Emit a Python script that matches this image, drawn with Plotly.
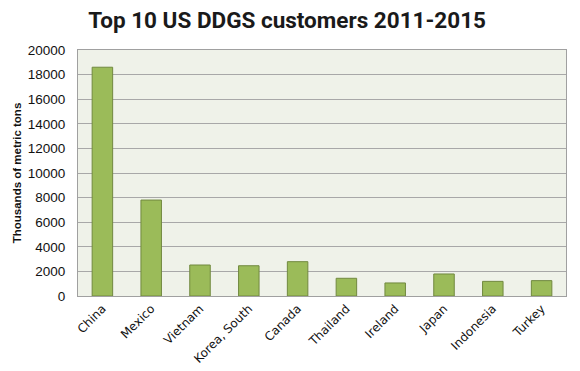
import plotly.graph_objects as go

categories = ["China", "Mexico", "Vietnam", "Korea, South", "Canada",
              "Thailand", "Ireland", "Japan", "Indonesia", "Turkey"]
values = [18600, 7800, 2520, 2460, 2790, 1440, 1060, 1790, 1190, 1250]
y_ticks = [0, 2000, 4000, 6000, 8000, 10000, 12000, 14000, 16000, 18000, 20000]

fig = go.Figure(go.Bar(
    x=categories, y=values, width=0.42,
    marker=dict(color="#9bbb59", line=dict(color="#71893f", width=1)),
))

fig.update_layout(
    width=580, height=371,
    margin=dict(l=78, r=14, t=50, b=75, autoexpand=False),
    paper_bgcolor="white", plot_bgcolor="#eff2e9",
    title=dict(text="<b>Top 10 US DDGS customers 2011-2015</b>", x=0.495, xanchor="center",
               y=0.945, yanchor="middle",
               font=dict(family="Roboto", size=22.5, color="#1a1a1a")),
    showlegend=False,
)
fig.update_xaxes(tickangle=-45, tickfont=dict(family="DejaVu Sans", size=12, color="#111"),
                 showline=True, linecolor="#a0a0a0", mirror=True, ticks="", automargin=False)
fig.update_yaxes(range=[0, 20000], tickvals=y_ticks, tickformat="d", showgrid=True,
                 gridcolor="#a8a8a8", gridwidth=1, showline=True, linecolor="#a0a0a0",
                 mirror=True, ticks="outside", ticklen=9, tickcolor="rgba(0,0,0,0)",
                 zeroline=False, automargin=False,
                 tickfont=dict(family="Liberation Sans", size=13.5, color="#111"),
                 title=dict(text="<b>Thousands of metric tons</b>", standoff=3,
                            font=dict(family="Liberation Sans", size=11.5, color="#111")))

fig.write_html("out.html", config={"displayModeBar": False},
               post_script="document.body.style.margin='0';")
